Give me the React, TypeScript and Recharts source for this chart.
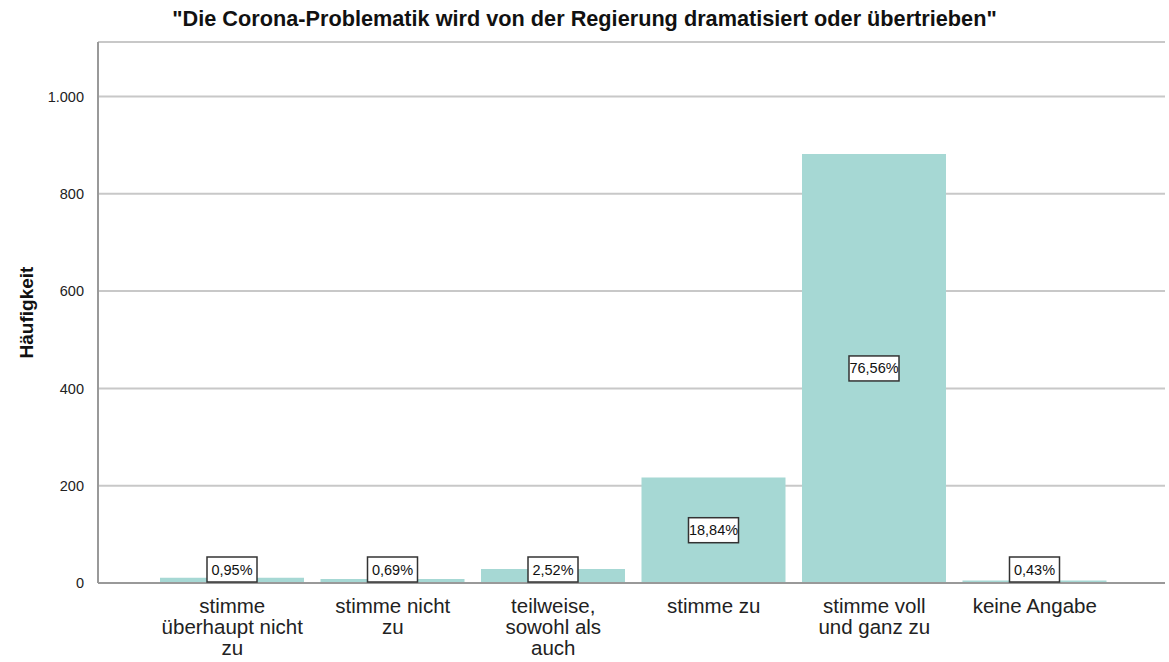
import { Bar, BarChart, CartesianGrid, LabelList, XAxis, YAxis } from 'recharts'

const categories = [
  'stimme überhaupt nicht zu',
  'stimme nicht zu',
  'teilweise, sowohl als auch',
  'stimme zu',
  'stimme voll und ganz zu',
  'keine Angabe',
]

// how the axis labels break into lines
const tickLines = [
  ['stimme', 'überhaupt nicht', 'zu'],
  ['stimme nicht', 'zu'],
  ['teilweise,', 'sowohl als', 'auch'],
  ['stimme zu'],
  ['stimme voll', 'und ganz zu'],
  ['keine Angabe'],
]

const counts = [11, 8, 29, 217, 882, 5]

const yTicks = [0, 200, 400, 600, 800, 1000]

const total = counts.reduce((s, v) => s + v, 0)

const data = categories.map((c, i) => ({
  name: c,
  count: counts[i],
  pct: ((counts[i] / total) * 100).toFixed(2).replace('.', ',') + '%',
}))

const FONT = '"Liberation Sans", Arial, sans-serif'
const BASELINE = 583

const fmtDe = (v: number) => String(v).replace(/\B(?=(\d{3})+(?!\d))/g, '.')

function CategoryTick(props: any) {
  const { x, y, payload, index } = props
  const lines = tickLines[index ?? payload.index] ?? [payload.value]
  return (
    <g transform={`translate(${x},${y})`}>
      <text textAnchor="middle" fontFamily={FONT} fontSize={20.5} fill="#222">
        {lines.map((l, i) => (
          <tspan key={i} x={0} y={22 + i * 21}>{l}</tspan>
        ))}
      </text>
    </g>
  )
}

function PctLabel(props: any) {
  const { x, y, width, height, value } = props
  const w = 50
  const h = 25
  const cx = x + width / 2
  let cy = y + height / 2
  if (cy > BASELINE - h / 2 - 1) cy = BASELINE - h / 2 - 1
  return (
    <g>
      <rect x={cx - w / 2} y={cy - h / 2} width={w} height={h} fill="#fff" stroke="#333" strokeWidth={1.5} />
      <text x={cx} y={cy + 5} textAnchor="middle" fontFamily={FONT} fontSize={14.5} fill="#111">{value}</text>
    </g>
  )
}

export default function App() {
  return (
    <div style={{ position: 'absolute', left: 0, top: 0, width: 1169, height: 662, background: '#fff' }}>
      <div
        style={{
          position: 'absolute', left: 0, top: 6, width: 1169, textAlign: 'center',
          fontFamily: FONT, fontWeight: 'bold', fontSize: 21.7, color: '#111',
        }}
      >
        "Die Corona-Problematik wird von der Regierung dramatisiert oder übertrieben"
      </div>
      <BarChart
        width={1169}
        height={662}
        data={data}
        margin={{ top: 42, right: 4, bottom: 9, left: 38 }}
        barSize={144}
      >
        <CartesianGrid vertical={false} stroke="#c8c8c8" strokeWidth={2} />
        <XAxis
          dataKey="name"
          interval={0}
          height={70}
          padding={{ left: 54, right: 50 }}
          tickLine={false}
          stroke="#999"
          strokeWidth={2}
          tick={<CategoryTick />}
        />
        <YAxis
          width={60}
          domain={[0, 1112]}
          ticks={yTicks}
          tickLine={false}
          stroke="#999"
          strokeWidth={2}
          tickMargin={8}
          tickFormatter={fmtDe}
          tick={{ fontFamily: FONT, fontSize: 14.5, fill: '#222' }}
          label={{
            value: 'Häufigkeit', angle: -90, position: 'left', offset: 12,
            style: { fontFamily: FONT, fontWeight: 'bold', fontSize: 19, fill: '#111', textAnchor: 'middle' },
          }}
        />
        <Bar dataKey="count" fill="#a6d8d4" isAnimationActive={false}>
          <LabelList dataKey="pct" content={<PctLabel />} />
        </Bar>
      </BarChart>
    </div>
  )
}
